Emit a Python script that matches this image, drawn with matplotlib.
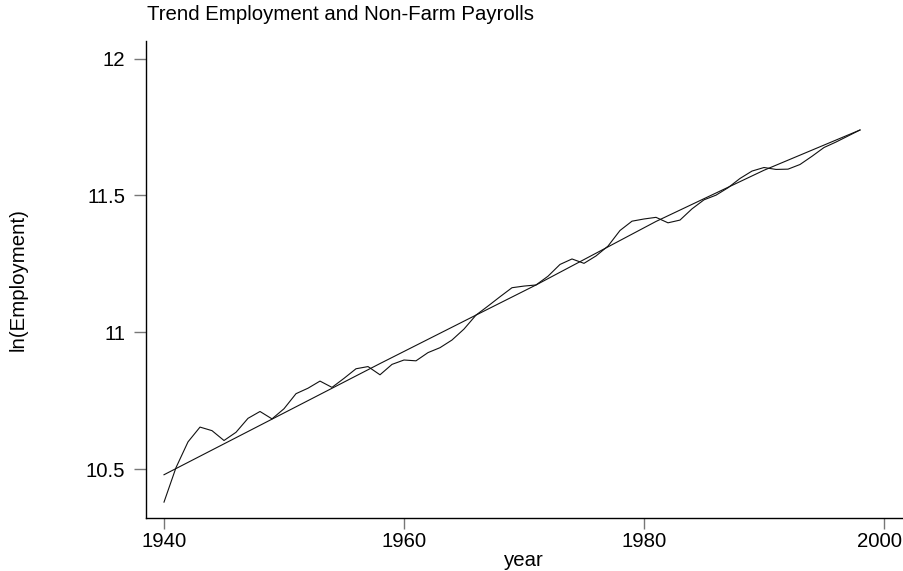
import numpy as np
import matplotlib
matplotlib.use("Agg")
import matplotlib.pyplot as plt
import matplotlib.transforms as mtransforms

plt.rcParams['font.family'] = ['Liberation Sans', 'DejaVu Sans']

# ln(non-farm payroll employment)
years = np.arange(1940, 1999)
ln_emp = [10.380, 10.506, 10.600, 10.654, 10.641, 10.605, 10.635, 10.686, 10.711, 10.684,
          10.721, 10.776, 10.796, 10.822, 10.799, 10.832, 10.867, 10.875, 10.845, 10.883,
          10.899, 10.896, 10.926, 10.944, 10.972, 11.012, 11.063, 11.096, 11.130, 11.163,
          11.169, 11.173, 11.205, 11.248, 11.268, 11.252, 11.279, 11.315, 11.372, 11.406,
          11.414, 11.420, 11.400, 11.410, 11.451, 11.484, 11.501, 11.528, 11.562, 11.589,
          11.602, 11.595, 11.596, 11.613, 11.643, 11.675, 11.695, 11.717, 11.739]

# trend line, read at a few years
trend_years = [1940, 1958, 1966, 1971, 1981, 1990, 1998]
trend_vals = [10.480, 10.886, 11.063, 11.173, 11.405, 11.592, 11.739]

xticks = [1940, 1960, 1980, 2000]
yticks = [10.5, 11, 11.5, 12]
ytick_labels = ['10.5', '11', '11.5', '12']

fs = 14.7

fig = plt.figure(figsize=(9.04, 5.71), dpi=100)
ax = fig.add_axes([146/904, 1 - 518/571, (902 - 146)/904, (518 - 41)/571])

ax.plot(years, ln_emp, color='#111111', lw=0.8)
ax.plot(trend_years, trend_vals, color='#111111', lw=0.8)

ax.set_xlim(1938.5, 2001.5)
ax.set_ylim(10.322, 12.064)
ax.set_xticks(xticks)
ax.set_yticks(yticks)
ax.set_yticklabels(ytick_labels)

for s in ['top', 'right']:
    ax.spines[s].set_visible(False)
for s in ['left', 'bottom']:
    ax.spines[s].set_linewidth(1.0)

ax.tick_params(axis='x', length=8, width=1, color='#777777', labelsize=fs, pad=2)
ax.tick_params(axis='y', length=8.6, width=1, color='#777777', labelsize=fs, pad=6.5)

# last x label is pulled in so it stays inside the figure
lab = ax.get_xticklabels()[-1]
lab.set_transform(lab.get_transform() + mtransforms.ScaledTranslation(-5/100, 0, fig.dpi_scale_trans))

ax.set_xlabel('year', fontsize=fs, labelpad=0)
ax.set_ylabel('ln(Employment)', fontsize=fs, va='center')
ax.yaxis.set_label_coords((18 - 146)/756, 0.5)
fig.text(147/904, 1 - 20/571, 'Trend Employment and Non-Farm Payrolls', fontsize=fs,
         ha='left', va='baseline')

fig.savefig('out.png', dpi=100)
